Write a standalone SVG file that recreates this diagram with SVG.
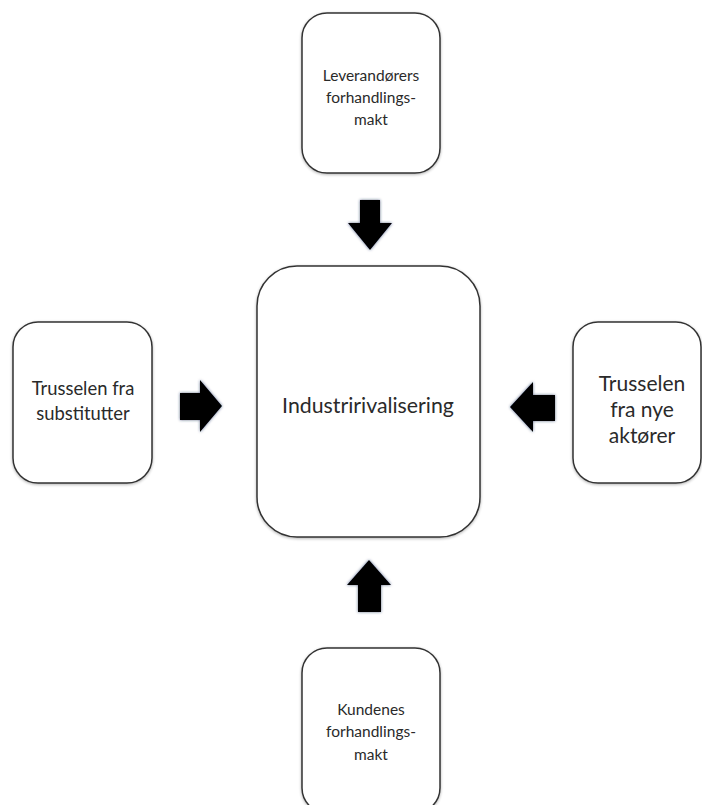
<svg xmlns="http://www.w3.org/2000/svg" width="702" height="805" viewBox="0 0 702 805">
<defs>
<style>
.box{fill:#fff;stroke:#333;stroke-width:1.5;filter:url(#sh)}
.t{font-family:Lato,"Open Sans","Liberation Sans",sans-serif;fill:#2a2a2a;text-anchor:middle}
.arr{fill:#000;filter:url(#glow)}
</style>
<filter id="sh" x="-10%" y="-10%" width="120%" height="120%">
<feGaussianBlur in="SourceAlpha" stdDeviation="1.5"/>
<feOffset dx="0" dy="1" result="b"/>
<feComponentTransfer><feFuncA type="linear" slope="0.3"/></feComponentTransfer>
<feMerge><feMergeNode/><feMergeNode in="SourceGraphic"/></feMerge>
</filter>
<filter id="glow" x="-30%" y="-30%" width="160%" height="160%">
<feGaussianBlur in="SourceAlpha" stdDeviation="1.5" result="b"/>
<feFlood flood-color="#1a2a55" flood-opacity="0.7"/>
<feComposite in2="b" operator="in"/>
<feMerge><feMergeNode/><feMergeNode in="SourceGraphic"/></feMerge>
</filter>
</defs>
<rect width="702" height="805" fill="#fff"/>
<g id="connectors">
<polygon class="arr" points="360,200 380,200 380,223 392,223 370,250 348,223 360,223"/>
<polygon class="arr" points="180,393 200,393 200,380 222,406 200,432 200,420 180,420"/>
<polygon class="arr" points="555,395 533,395 533,382 510,407 533,432 533,421 555,421"/>
<polygon class="arr" points="358,612 381,612 381,585 391,585 369,560 347,585 358,585"/>
</g>
<g id="node-center">
<rect class="box" x="257" y="266" width="223" height="271" rx="40"/>
<text class="t" x="368" y="413" font-size="21.3">Industririvalisering</text>
</g>
<g id="node-top">
<rect class="box" x="302" y="13" width="138" height="160" rx="25"/>
<text class="t" x="371" y="81" font-size="15.5">Leverandørers</text>
<text class="t" x="371" y="103" font-size="15.5">forhandlings-</text>
<text class="t" x="371" y="125" font-size="15.5">makt</text>
</g>
<g id="node-left">
<rect class="box" x="13" y="322" width="139" height="161" rx="25"/>
<text class="t" x="83" y="395" font-size="18.4">Trusselen fra</text>
<text class="t" x="83" y="420" font-size="18.4">substitutter</text>
</g>
<g id="node-right">
<rect class="box" x="573" y="322" width="128" height="161" rx="25"/>
<text class="t" x="642" y="391" font-size="21">Trusselen</text>
<text class="t" x="642" y="417" font-size="21">fra nye</text>
<text class="t" x="642" y="443" font-size="21">aktører</text>
</g>
<g id="node-bottom">
<rect class="box" x="302" y="648" width="138" height="165" rx="25"/>
<text class="t" x="371" y="715" font-size="15.5">Kundenes</text>
<text class="t" x="371" y="737" font-size="15.5">forhandlings-</text>
<text class="t" x="371" y="760" font-size="15.5">makt</text>
</g>
</svg>
